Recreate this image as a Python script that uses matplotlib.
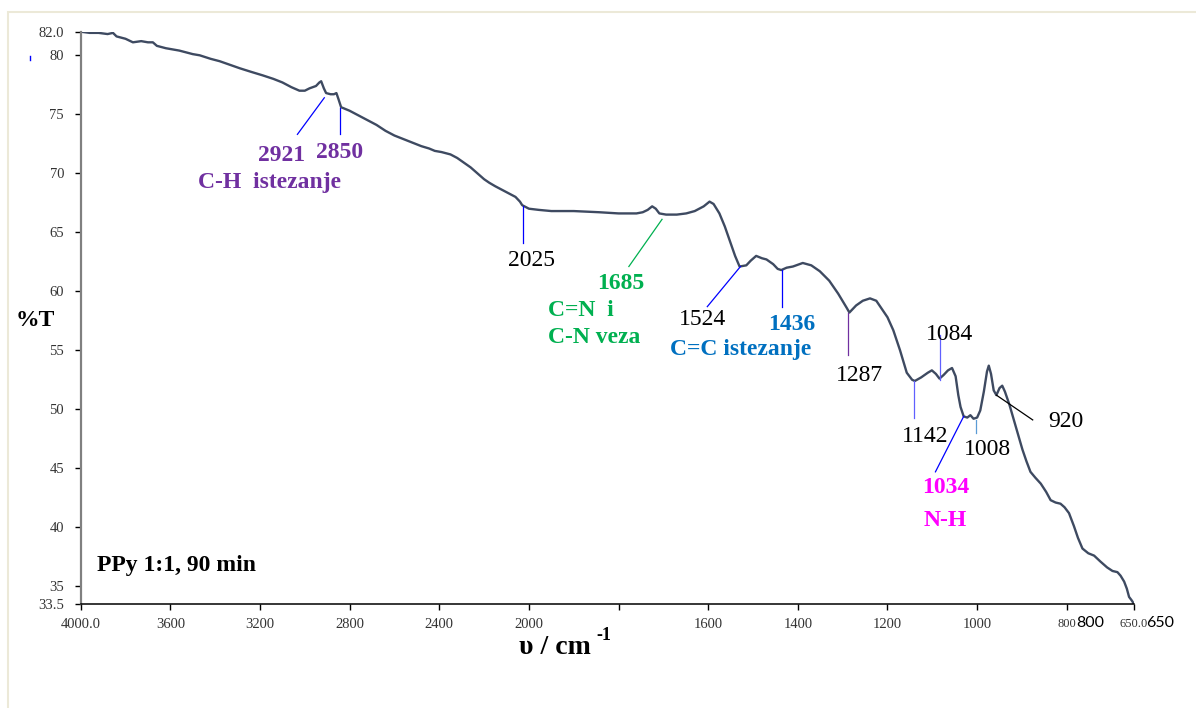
import numpy as np
import matplotlib
matplotlib.use("Agg")
import matplotlib.pyplot as plt
from matplotlib.patches import Rectangle
from matplotlib.lines import Line2D

# FTIR spectrum (wavenumber, %T)
wavenumber = [4000, 3960, 3920, 3880, 3856, 3840, 3800, 3767, 3730, 3700, 3678, 3660,
              3620, 3560, 3500, 3469, 3420, 3380, 3335, 3290, 3240, 3188, 3140, 3100,
              3060, 3024, 3000, 2979, 2950, 2935, 2927, 2915, 2905, 2885, 2870, 2859,
              2850, 2838, 2800, 2760, 2720, 2680, 2640, 2600, 2560, 2520, 2480, 2445,
              2420, 2390, 2350, 2320, 2290, 2260, 2230, 2200, 2177, 2150, 2120, 2090,
              2060, 2040, 2030, 2020, 2000, 1978, 1950, 1900, 1843, 1800, 1760, 1746,
              1735, 1725, 1717, 1709, 1694, 1670, 1649, 1630, 1610, 1597, 1588, 1575,
              1563, 1552, 1540, 1530, 1515, 1505, 1493, 1480, 1470, 1455, 1445, 1437,
              1425, 1411, 1389, 1370, 1351, 1330, 1310, 1291, 1285, 1270, 1255, 1239,
              1225, 1216, 1200, 1187, 1172, 1157, 1145, 1139, 1125, 1110, 1101, 1092,
              1084, 1075, 1065, 1056, 1048, 1042, 1037, 1030, 1022, 1015, 1008, 1000,
              993, 985, 978, 974, 969, 963, 957, 950, 944, 938, 928, 918, 908, 899,
              890, 881, 870, 858, 846, 836, 825, 814, 805, 795, 784, 775, 765, 752,
              739, 725, 710, 698, 687, 680, 672, 666, 661, 655, 650]
transmittance = [82.0, 81.9, 81.9, 81.8, 81.9, 81.6, 81.4, 81.1, 81.2, 81.1, 81.1, 80.8,
                 80.6, 80.4, 80.1, 80.0, 79.7, 79.5, 79.2, 78.9, 78.6, 78.3, 78.0, 77.7,
                 77.3, 77.0, 77.0, 77.2, 77.4, 77.7, 77.8, 77.2, 76.8, 76.7, 76.7, 76.8,
                 76.3, 75.6, 75.3, 74.9, 74.5, 74.1, 73.6, 73.2, 72.9, 72.6, 72.3, 72.1,
                 71.9, 71.8, 71.6, 71.3, 70.9, 70.5, 70.0, 69.5, 69.2, 68.9, 68.6, 68.3,
                 68.0, 67.6, 67.3, 67.2, 67.0, 66.9, 66.8, 66.8, 66.7, 66.6, 66.6, 66.7,
                 66.9, 67.2, 67.0, 66.6, 66.5, 66.5, 66.6, 66.8, 67.2, 67.6, 67.4, 66.6,
                 65.5, 64.3, 63.0, 62.1, 62.2, 62.6, 63.0, 62.8, 62.7, 62.3, 61.9, 61.8,
                 62.0, 62.1, 62.4, 62.2, 61.7, 60.9, 59.8, 58.6, 58.2, 58.8, 59.2, 59.4,
                 59.2, 58.7, 57.8, 56.7, 55.0, 53.1, 52.5, 52.4, 52.7, 53.1, 53.3, 53.0,
                 52.6, 52.9, 53.3, 53.5, 52.8, 51.2, 50.2, 49.4, 49.3, 49.5, 49.2, 49.3,
                 49.9, 51.5, 53.2, 53.7, 53.0, 51.6, 51.2, 51.8, 52.0, 51.5, 50.4, 49.1,
                 47.8, 46.6, 45.6, 44.7, 44.2, 43.7, 43.0, 42.3, 42.1, 42.0, 41.7, 41.2,
                 40.1, 39.1, 38.2, 37.8, 37.6, 37.1, 36.6, 36.3, 36.2, 35.9, 35.4, 34.8,
                 34.1, 33.8, 33.5]

x_ticks = [4000, 3600, 3200, 2800, 2400, 2000, 1800, 1600, 1400, 1200, 1000, 800, 650]
x_tick_labels = ["4000.0", "3600", "3200", "2800", "2400", "2000", "", "1600", "1400",
                 "1200", "1000", "800", "650.0"]
y_ticks = [33.5, 35, 40, 45, 50, 55, 60, 65, 70, 75, 80, 82.0]
y_tick_labels = ["33.5", "35", "40", "45", "50", "55", "60", "65", "70", "75", "80", "82.0"]

# band labels: text, text position, line start, line end, text colour, line colour, bold
bands = [
    ("2921", (3104, 71.5), (2913, 76.4), (3033, 73.3), "#7030a0", "#0000ff", True),
    ("2850", (2846, 71.8), (2842, 75.5), (2842, 73.3), "#7030a0", "#0000ff", True),
    ("2025", (1995, 62.6), (2025, 67.2), (2025, 64.1), "black", "#0000ff", False),
    ("1685", (1794, 60.7), (1703, 66.1), (1777, 62.1), "#00b050", "#00b050", True),
    ("1524", (1613, 57.6), (1528, 62.1), (1602, 58.7), "black", "#0000ff", False),
    ("1436", (1414, 57.2), (1436, 61.8), (1436, 58.7), "#0070c0", "#0000ff", True),
    ("1287", (1262, 52.9), (1287, 58.2), (1287, 54.6), "black", "#7030a0", False),
    ("1142", (1116, 47.7), (1141, 52.4), (1141, 49.3), "black", "#6060ff", False),
    ("1084", (1062, 56.3), (1083, 56.3), (1083, 52.5), "black", "#6060ff", False),
    ("1034", (1071, 43.4), (1030, 49.4), (1093, 44.7), "#ff00ff", "#0000ff", True),
    ("1008", (978, 46.6), (1003, 49.1), (1003, 48.0), "black", "#5b9bd5", False),
    ("920", (802, 49.0), (957, 51.2), (876, 49.1), "black", "black", False),
]
group_labels = [
    ("C-H  istezanje", (3157, 69.25), "center", "#7030a0"),
    ("C=N  i", (1957, 58.4), "left", "#00b050"),
    ("C-N veza", (1957, 56.1), "left", "#00b050"),
    ("C=C istezanje", (1528, 55.1), "center", "#0070c0"),
    ("N-H", (1071, 40.6), "center", "#ff00ff"),
]

serif = "Liberation Serif"


def fwd(x):
    x = np.asarray(x, dtype=float)
    return np.where(x > 2000, 2000 + (x - 2000) / 2.0, x)


def inv(u):
    u = np.asarray(u, dtype=float)
    return np.where(u > 2000, 2000 + (u - 2000) * 2.0, u)


fig = plt.figure(figsize=(11.96, 7.08), dpi=100)
fig.patches.append(Rectangle((8 / 1196, -0.1), 1.2, 1 - 12 / 708 + 0.1,
                             transform=fig.transFigure, fill=False,
                             edgecolor="#ece9d8", linewidth=1.5))
fig.lines.append(Line2D([30 / 1196, 30 / 1196], [1 - 56 / 708, 1 - 60 / 708],
                        transform=fig.transFigure, color="blue", linewidth=1))

ax = fig.add_axes([80.7 / 1196, 1 - 604 / 708, (1134 - 80.7) / 1196, (604 - 31.7) / 708])
ax.set_xscale("function", functions=(fwd, inv))
ax.plot(wavenumber, transmittance, color="#3e4a61", linewidth=1.7)
ax.set_xlim(4000, 650)
ax.set_ylim(33.5, 82.0)

ax.set_xticks(x_ticks)
ax.set_xticklabels(x_tick_labels, fontfamily=serif, fontsize=10.5, color="#333333")
for lab in ax.get_xticklabels()[-2:]:
    lab.set_fontsize(9)
ax.set_yticks(y_ticks)
ax.set_yticklabels(y_tick_labels, fontfamily=serif, fontsize=10.5, color="#333333")
ax.xaxis.set_minor_locator(matplotlib.ticker.NullLocator())
ax.tick_params(axis="x", direction="out", length=4, width=1, pad=6)
ax.tick_params(axis="y", direction="out", length=4, width=1, pad=8)

for s in ["top", "right"]:
    ax.spines[s].set_visible(False)
ax.spines["left"].set_color("#808080")
ax.spines["left"].set_linewidth(1.6)
ax.spines["bottom"].set_color("black")
ax.spines["bottom"].set_linewidth(1.1)

# the odd doubled axis labels at the right end
for val, off in [(800, 7.0), (650, 9.0)]:
    ax.annotate(str(val), xy=(val, 0), xycoords=("data", "axes fraction"),
                xytext=(off, -13.5), textcoords="offset points",
                ha="left", va="center", fontfamily="Lato", fontsize=11.5, color="black",
                annotation_clip=False)

for txt, tpos, p0, p1, tcol, lcol, bold in bands:
    ax.plot([p0[0], p1[0]], [p0[1], p1[1]], color=lcol, linewidth=0.9)
    ax.text(tpos[0], tpos[1], txt, ha="center", va="center", fontfamily=serif,
            fontsize=17, color=tcol, fontweight="bold" if bold else "normal")

for txt, pos, ha, col in group_labels:
    ax.text(pos[0], pos[1], txt, ha=ha, va="center", fontfamily=serif,
            fontsize=17, color=col, fontweight="bold")

fig.text(35 / 1196, 1 - 321 / 708, "%T", ha="center", va="center",
         fontfamily=serif, fontsize=17, fontweight="bold")
fig.text(97 / 1196, 1 - 565 / 708, "PPy 1:1, 90 min", ha="left", va="center",
         fontfamily=serif, fontsize=17, fontweight="bold")
fig.text(555 / 1196, 1 - 648 / 708, "υ / cm", ha="center", va="center",
         fontfamily=serif, fontsize=20, fontweight="bold")
fig.text(596 / 1196, 1 - 636 / 708, "-1", ha="left", va="center",
         fontfamily=serif, fontsize=13, fontweight="bold")

fig.savefig("out.png", dpi=100)
